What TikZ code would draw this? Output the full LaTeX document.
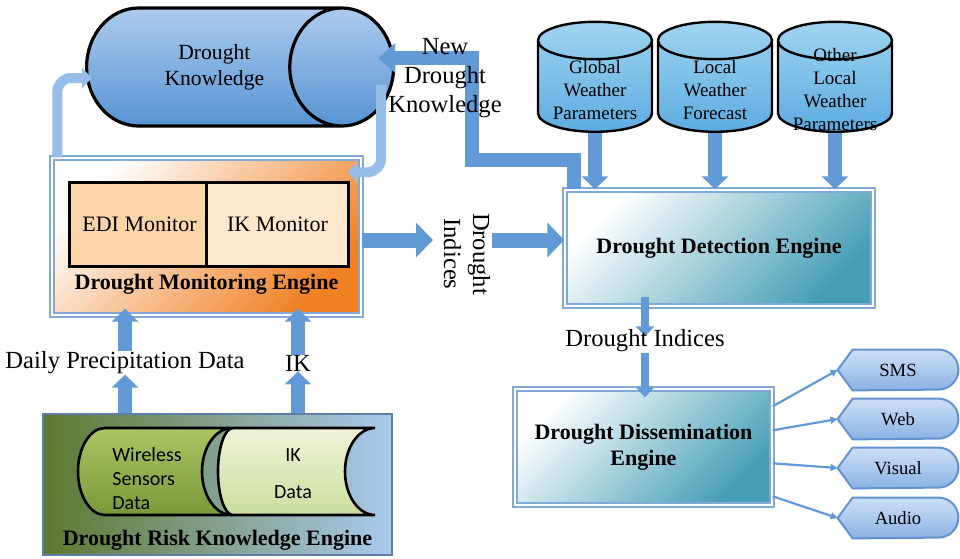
\documentclass[tikz,border=0pt]{standalone}
\usepackage{fontspec}
\setmainfont{Liberation Serif}
\newfontfamily\storefont{Carlito}
\usepackage{tikz}
\usetikzlibrary{positioning,arrows.meta,shapes.geometric,calc,backgrounds}
\pgfdeclarelayer{front}
\pgfsetlayers{background,main,front}
\definecolor{ArrBlue}{RGB}{98,153,215}
\definecolor{ArrLight}{RGB}{150,190,232}
\definecolor{KnowTop}{RGB}{172,203,236}
\definecolor{KnowBot}{RGB}{88,148,212}
\definecolor{CylTop}{RGB}{160,212,240}
\definecolor{CylBot}{RGB}{92,172,224}
\definecolor{EngOrange}{RGB}{240,128,36}
\definecolor{EdiFill}{RGB}{251,212,168}
\definecolor{IkFill}{RGB}{253,231,205}
\definecolor{EngTeal}{RGB}{70,158,182}
\definecolor{BoxEdge}{RGB}{130,170,215}
\definecolor{RiskOlive}{RGB}{92,120,46}
\definecolor{RiskBlue}{RGB}{170,202,238}
\definecolor{RiskEdge}{RGB}{95,125,165}
\definecolor{WslTop}{RGB}{172,196,100}
\definecolor{WslBot}{RGB}{122,152,58}
\definecolor{IkdTop}{RGB}{238,244,214}
\definecolor{IkdBot}{RGB}{204,222,160}
\definecolor{OutTop}{RGB}{205,224,246}
\definecolor{OutBot}{RGB}{138,178,228}
\definecolor{OutEdge}{RGB}{98,146,208}
\newcommand{\lblsize}{\fontsize{12.3}{14.5}\selectfont}
\newcommand{\boxsize}{\fontsize{11}{13}\selectfont}
\newcommand{\cylsize}{\fontsize{9.5}{11.5}\selectfont}
\newcommand{\outsize}{\fontsize{9.3}{11}\selectfont}

\begin{document}
\begin{tikzpicture}[x=0.5pt, y=-0.5pt,
    engine/.style={rectangle, draw=BoxEdge, line width=0.7pt, double=white, double distance=1.4pt, inner sep=0pt},
    monitor/.style={rectangle, draw=black, line width=1.5pt, minimum height=42pt, font=\boxsize, inner sep=0pt, outer sep=0pt},
    englabel/.style={font=\boxsize\bfseries, inner sep=0pt},
    riskbox/.style={rectangle, left color=RiskOlive, right color=RiskBlue, draw=RiskEdge, line width=1pt},
    knowcyl/.style={cylinder, shape aspect=1.76, draw=black, line width=1.6pt, top color=KnowTop, bottom color=KnowBot,
        minimum height=153.5pt, minimum width=59pt, align=center, font=\fontsize{10.8}{13}\selectfont},
    wcyl/.style={cylinder, shape border rotate=90, shape aspect=1.1, draw=black, line width=1.2pt, top color=CylTop, bottom color=CylBot,
        minimum width=57pt, minimum height=55pt, inner sep=8.5pt},
    cyltext/.style={font=\cylsize, align=center, inner sep=0pt},
    flowlbl/.style={font=\lblsize, align=center, inner sep=0pt},
    storebox/.style={draw=black, line width=1.3pt},
    storetext/.style={font=\storefont\fontsize{10}{12}\selectfont, align=left, inner sep=0pt},
    outnode/.style={minimum width=60pt, minimum height=20pt, inner sep=0pt, font=\outsize},
    outshape/.style={draw=OutEdge, line width=1pt, top color=OutTop, bottom color=OutBot},
    blk/.style={draw=ArrBlue, line width=7pt, -{Triangle[length=6.5pt, width=13pt]}},
    bigblk/.style={draw=ArrBlue, line width=7.5pt, -{Triangle[length=8.5pt, width=17pt]}},
    slimblk/.style={draw=ArrLight, line width=5pt, rounded corners=7pt, -{Triangle[length=5pt, width=10pt]}},
    midblk/.style={draw=ArrBlue, line width=4pt, -{Triangle[length=5pt, width=9pt]}},
    thinarr/.style={draw=ArrBlue, line width=1.1pt, -{Triangle[length=3.5pt, width=3.5pt]}},
]
\useasboundingbox (0,0) rectangle (960,558);

% stores
\node[knowcyl, anchor=west] (dk) at (85,67) {\hspace*{13pt}Drought\\\hspace*{13pt}Knowledge};
\node[wcyl, anchor=south] (gwp) at (595,133) {};
\node[wcyl, anchor=south] (lwf) at (715,133) {};
\node[wcyl, anchor=south] (olw) at (835,133) {};
\node[cyltext] (gwp-t) at (595,90) {Global\\Weather\\Parameters};
\node[cyltext] (lwf-t) at (715,90) {Local\\Weather\\Forecast};
\node[cyltext] (olw-t) at (835,89.5) {Other\\Local\\Weather\\Parameters};

% engines
\node[engine, minimum width=154.5pt, minimum height=78.5pt, top color=white, middle color=white,
    bottom color=EngOrange, shading angle=45] (dme) at (206.5,236.5) {};
\node[monitor, minimum width=70pt, fill=EdiFill] (edi) at (139.5,224) {EDI Monitor};
\node[monitor, minimum width=71pt, fill=IkFill, right=-1.5pt of edi] (ikm) {IK Monitor};
\node[englabel, above=10.5pt of dme.south] (dmel) {Drought Monitoring Engine};

\node[engine, minimum width=154pt, minimum height=58pt, top color=white, middle color=EngTeal!20,
    bottom color=EngTeal, shading angle=45, font=\boxsize\bfseries] (dde) at (719,248) {Drought Detection Engine};
\node[engine, minimum width=128.5pt, minimum height=58pt, top color=white, middle color=EngTeal!20,
    bottom color=EngTeal, shading angle=45, font=\boxsize\bfseries, align=center] (ddis) at (643.5,447)
    {Drought Dissemination\\Engine};

\node[riskbox, minimum width=174.5pt, minimum height=70.5pt] (drke) at (217.5,484.5) {};
\draw[storebox, top color=WslTop, bottom color=WslBot]
    (105,428) -- (232,428) .. controls (215.5,428) and (202,447.6) .. (202,471.5)
    .. controls (202,495.4) and (215.5,515) .. (232,515) -- (105,515)
    .. controls (90,515) and (78,495.4) .. (78,471.5) .. controls (78,447.6) and (90,428) .. (105,428) -- cycle;
\draw[storebox, top color=IkdTop, bottom color=IkdBot]
    (233,428) -- (375,428) .. controls (358.5,428) and (345,447.6) .. (345,471.5)
    .. controls (345,495.4) and (358.5,515) .. (375,515) -- (233,515)
    .. controls (224.7,515) and (218,495.4) .. (218,471.5) .. controls (218,447.6) and (224.7,428) .. (233,428) -- cycle;
\node[storetext, anchor=west] (wsd) at (112,479) {Wireless\\Sensors\\Data};
\node[storetext, align=center] (ikd) at (293,474) {IK\\[6.5pt]Data};
\node[englabel, above=2.5pt of drke.south] (drkel) {Drought Risk Knowledge Engine};

% outputs
\foreach \nm/\txt/\yy in {sms/SMS/370, web/Web/419, vis/Visual/468, aud/Audio/518}
    \node[outnode] (\nm) at (898,\yy) {\txt};
\begin{scope}[on background layer]
\foreach \nm in {sms,web,vis,aud}
    \path[outshape] (\nm.west) -- ($(\nm.north west)+(15,0)$) -- ($(\nm.north east)+(-20,0)$)
        arc[start angle=90, end angle=-90, radius=10pt] -- ($(\nm.south west)+(15,0)$) -- cycle;
\end{scope}

% flow labels
\begin{pgfonlayer}{front}
\node[flowlbl] (dpd) at (125,363) {Daily Precipitation Data};
\node[flowlbl] (ikl) at (298,363) {IK};
\node[flowlbl] (ndk) at (445,78) {New\\Drought\\Knowledge};
\node[flowlbl, rotate=-90] (di1) at (467,254) {Drought\\Indices};
\node[flowlbl] (di2) at (645,341) {Drought Indices};
\end{pgfonlayer}

% arrows
\draw[slimblk] ($(dme.north west)+(6,0)$) |- ($(dk.west)+(7,11)$);
\draw[slimblk] ($(dk.east)+(-14,18)$) |- ($(dme.north east)+(-14,15)$);
\coordinate (nbend) at (472,160);
\draw[blk, -{Triangle[length=8.5pt, width=14.5pt]}] ($(dde.north west)+(10,0)$) |- (nbend) |- ($(dk.east)+(-17,-9)$);
\foreach \cyl in {gwp,lwf,olw}
    \draw[blk] (\cyl.south) -- (\cyl.south |- dde.north);
\coordinate (di1in) at ($(di1.center)+(-34,-14)$);
\coordinate (di1out) at ($(di1.center)+(25,-14)$);
\draw[bigblk] ($(dme.east)+(0,3.5)$) -- (di1in);
\draw[bigblk] (di1out) -- (di1out -| dde.west);
\draw[midblk] ($(di2 |- dde.south)+(0,-10)$) -- ($(di2.north)+(0,7)$);
\draw[midblk] (di2.south) -- ($(di2 |- ddis.north)+(0,9)$);
\draw[blk] (drke.north -| dpd) -- (dpd.south);
\draw[blk] (dpd.north) -- ($(dpd |- dme.south)+(0,-7)$);
\draw[blk] (drke.north -| ikl) -- (ikl.south);
\draw[blk] (ikl.north) -- ($(ikl |- dme.south)+(0,-7)$);
\foreach \nm/\dy in {sms/18, web/42, vis/75, aud/108}
    \draw[thinarr] ($(ddis.north east)+(0,\dy)$) -- (\nm.west);
\end{tikzpicture}
\end{document}
